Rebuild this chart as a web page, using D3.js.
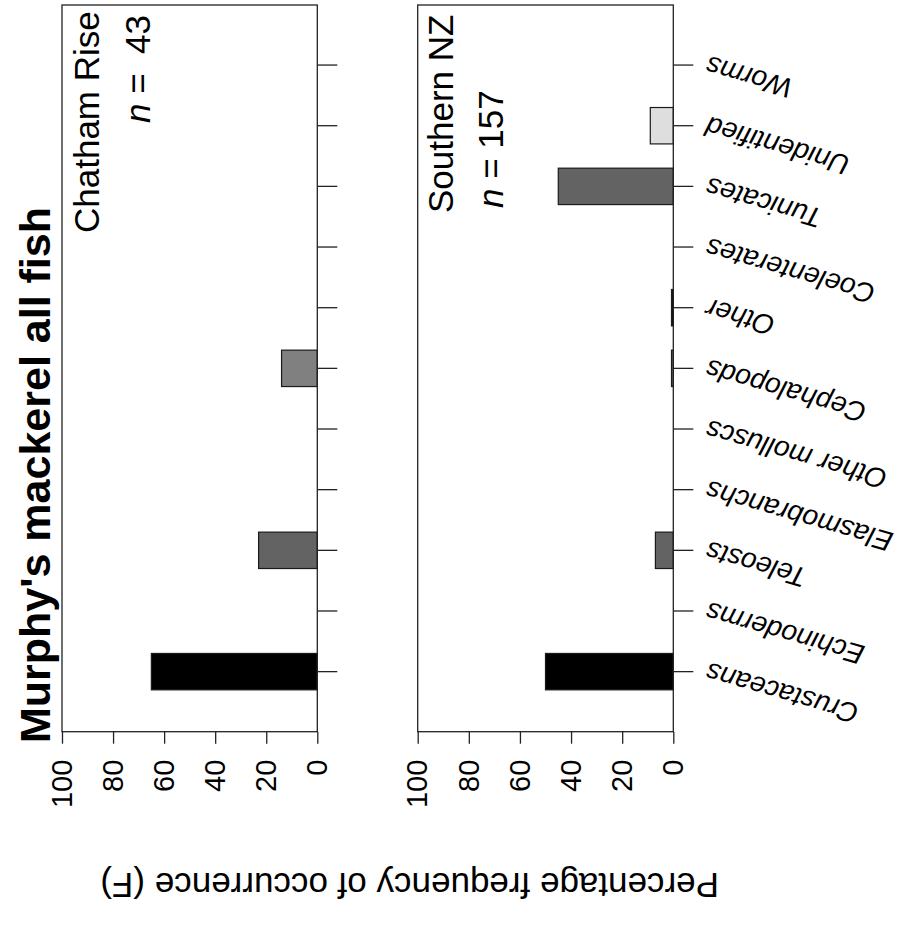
<!DOCTYPE html>
<html>
<head>
<meta charset="utf-8">
<script src="https://cdn.jsdelivr.net/npm/d3@7"></script>
<style>
  html, body { margin: 0; padding: 0; background: #fff; }
  svg { display: block; }
  text { font-family: "Liberation Sans", Arial, Helvetica, sans-serif; fill: #000; }
</style>
</head>
<body>
<script>
// ---------- data ----------
const titleText = "Murphy's mackerel all fish";
const yAxisTitle = "Percentage frequency of occurrence (F)";
const categories = ["Crustaceans", "Echinoderms", "Teleosts", "Elasmobranchs", "Other molluscs",
                    "Cephalopods", "Other", "Coelenterates", "Tunicates", "Unidentified", "Worms"];
const chathamValues  = [65, 0, 23, 0, 0, 14, 0, 0, 0, 0, 0];
const southernValues = [50, 0, 7, 0, 0, 0.7, 0.7, 0, 45, 9, 0];
const barColors = ["#000000", "#ffffff", "#636363", "#ffffff", "#ffffff",
                   "#808080", "#111111", "#ffffff", "#636363", "#dedede", "#ffffff"];
const valueTicks = [0, 20, 40, 60, 80, 100];
const panelNames = ["Chatham Rise", "Southern NZ"];
const panelN = ["43", "157"];

// ---------- layout (drawn unrotated, then turned 90° counter-clockwise) ----------
const W = 904, H = 929;
const svg = d3.select("body").append("svg").attr("width", W).attr("height", H);
const g = svg.append("g").attr("transform", `translate(0,${H}) rotate(-90)`);

const boxLeft = 197.3, boxRight = 924;
const x = d3.scaleBand().domain(categories).range([boxLeft, boxRight])
  .paddingInner(0.4).paddingOuter(0.69);

const panels = [
  { values: chathamValues, top: 62, bottom: 317.3, name: panelNames[0], n: panelN[0],
    nameX: 696, nameY: 99, nX: 806, nY: 150, nSep: " =  " },
  { values: southernValues, top: 417.7, bottom: 673.3, name: panelNames[1], n: panelN[1],
    nameX: 716, nameY: 453, nX: 721, nY: 503, nSep: " = " }
];

panels.forEach((p, pi) => {
  const y = d3.scaleLinear().domain([0, 100]).range([p.bottom, p.top]);
  const pg = g.append("g");

  // bars
  const data = categories.map((c, i) => ({ c, v: p.values[i], col: barColors[i] })).filter(d => d.v > 0);
  pg.selectAll("rect.bar").data(data).enter().append("rect")
    .attr("class", "bar")
    .attr("x", d => x(d.c))
    .attr("width", x.bandwidth())
    .attr("y", d => y(d.v))
    .attr("height", d => y(0) - y(d.v))
    .attr("fill", d => d.col)
    .attr("stroke", "#1a1a1a")
    .attr("stroke-width", 1.2);

  // frame
  pg.append("rect")
    .attr("x", boxLeft).attr("y", y(100))
    .attr("width", boxRight - boxLeft).attr("height", y(0) - y(100))
    .attr("fill", "none").attr("stroke", "#222").attr("stroke-width", 1.3);

  // value axis
  const ya = pg.append("g").attr("transform", `translate(${boxLeft},0)`)
    .call(d3.axisLeft(y).tickValues(valueTicks).tickSize(12).tickPadding(16).tickFormat(d3.format("d")));
  ya.select(".domain").remove();
  ya.selectAll(".tick line").attr("stroke", "#222").attr("stroke-width", 1.3);
  ya.selectAll(".tick text").attr("font-size", 29).attr("font-family", '"Liberation Sans", Arial, sans-serif');

  // category ticks
  const xa = pg.append("g").attr("transform", `translate(0,${y(0)})`)
    .call(d3.axisBottom(x).tickSize(20).tickFormat(""));
  xa.select(".domain").remove();
  xa.selectAll(".tick line").attr("stroke", "#222").attr("stroke-width", 1.3);

  // panel labels
  pg.append("text").attr("x", p.nameX).attr("y", p.nameY)
    .attr("font-size", 35).text(p.name);
  const nt = pg.append("text").attr("x", p.nX).attr("y", p.nY)
    .attr("font-size", 35).style("white-space", "pre");
  nt.append("tspan").attr("font-style", "italic").text("n");
  nt.append("tspan").text(p.nSep + p.n);

  // category labels on the lower panel
  if (pi === panels.length - 1) {
    pg.selectAll("text.cat").data(categories).enter().append("text")
      .attr("class", "cat")
      .attr("font-size", 28)
      .attr("font-style", "italic")
      .attr("text-anchor", "end")
      .attr("dy", "0.35em")
      .attr("transform", d => `translate(${x(d) + x.bandwidth() / 2},${y(0) + 33}) rotate(-74)`)
      .text(d => d);
  }
});

// title
g.append("text").attr("x", 186).attr("y", 50)
  .attr("font-size", 43).attr("font-weight", "bold").text(titleText);

// y axis title
g.append("text")
  .attr("transform", `translate(56,${(62 + 673.3) / 2 + 42}) rotate(-90)`)
  .attr("text-anchor", "middle")
  .attr("font-size", 35)
  .text(yAxisTitle);
</script>
</body>
</html>
